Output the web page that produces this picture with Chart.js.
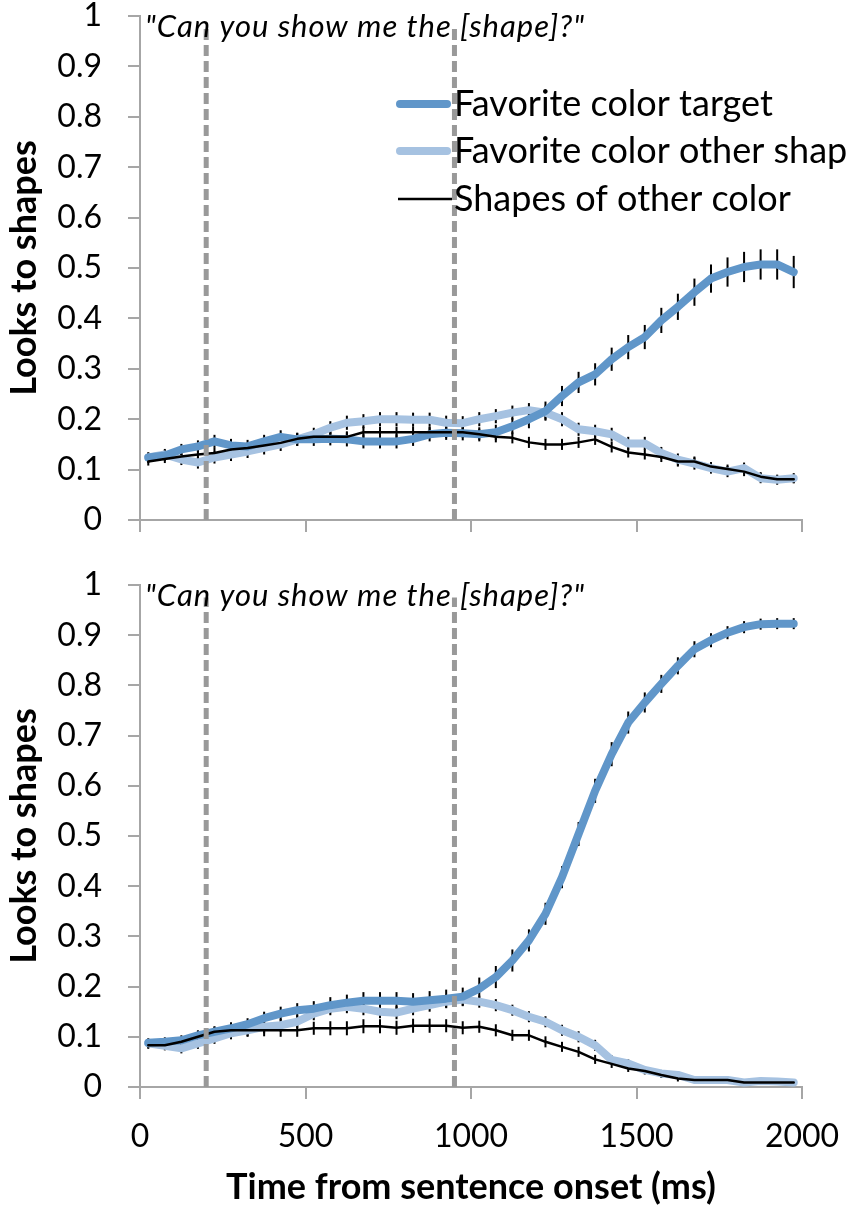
<!DOCTYPE html>
<html>
<head>
<meta charset="utf-8">
<script src="https://cdn.jsdelivr.net/npm/chart.js@4.4.0/dist/chart.umd.min.js"></script>
<style>
html, body { margin: 0; padding: 0; background: #fff; }
#top { position: absolute; left: 0; top: 0; width: 847px; height: 545px; }
#bottom { position: absolute; left: 0; top: 545px; width: 847px; height: 670px; }
</style>
</head>
<body>
<div id="top"><canvas id="c1"></canvas></div>
<div id="bottom"><canvas id="c2"></canvas></div>
<script>
// time bins (ms from sentence onset)
const times = [25,75,125,175,225,275,325,375,425,475,525,575,625,675,725,775,825,875,925,975,
	1025,1075,1125,1175,1225,1275,1325,1375,1425,1475,1525,1575,1625,1675,1725,1775,1825,1875,1925,1975];

const seriesNames = ['Favorite color target', 'Favorite color other shape', 'Shapes of other color'];
const xTicks = [0, 500, 1000, 1500, 2000];
const xTickLabels = ['0', '500', '1000', '1500', '2000'];
const yTicks = [0, 0.1, 0.2, 0.3, 0.4, 0.5, 0.6, 0.7, 0.8, 0.9, 1];
const yTickLabels = ['0', '0.1', '0.2', '0.3', '0.4', '0.5', '0.6', '0.7', '0.8', '0.9', '1'];
const cueTimes = [200, 950];
const annotation = '"Can you show me the [shape]?"';

// top panel
const topTarget = [0.124,0.128,0.140,0.146,0.156,0.148,0.146,0.156,0.165,0.160,0.160,0.161,0.160,0.156,0.156,0.156,0.161,0.170,0.173,0.172,
	0.170,0.174,0.186,0.200,0.216,0.246,0.273,0.289,0.319,0.343,0.363,0.396,0.423,0.452,0.479,0.492,0.502,0.507,0.507,0.492];
const topOther = [0.124,0.130,0.120,0.114,0.124,0.130,0.136,0.143,0.150,0.160,0.170,0.183,0.193,0.196,0.200,0.200,0.199,0.199,0.193,0.192,
	0.200,0.206,0.213,0.218,0.213,0.200,0.180,0.176,0.170,0.152,0.152,0.133,0.120,0.112,0.103,0.096,0.103,0.083,0.080,0.083];
const topOtherColor = [0.116,0.121,0.126,0.130,0.133,0.140,0.143,0.148,0.153,0.161,0.165,0.165,0.165,0.174,0.174,0.174,0.174,0.174,0.174,0.174,
	0.170,0.165,0.163,0.154,0.150,0.150,0.154,0.160,0.145,0.134,0.130,0.125,0.116,0.116,0.106,0.101,0.096,0.086,0.081,0.081];
const topTargetErr = [0.010,0.011,0.011,0.012,0.013,0.013,0.013,0.013,0.013,0.013,0.013,0.013,0.014,0.014,0.014,0.014,0.014,0.014,0.014,0.014,
	0.014,0.015,0.016,0.018,0.019,0.020,0.021,0.022,0.023,0.024,0.024,0.025,0.026,0.027,0.028,0.029,0.030,0.030,0.030,0.032];
const topOtherErr = [0.010,0.011,0.011,0.012,0.012,0.013,0.013,0.013,0.013,0.013,0.013,0.013,0.014,0.014,0.014,0.014,0.014,0.014,0.014,0.014,
	0.014,0.014,0.014,0.014,0.014,0.014,0.013,0.013,0.013,0.013,0.013,0.012,0.012,0.012,0.011,0.011,0.011,0.010,0.010,0.010];
const topOtherColorErr = [0.008,0.008,0.009,0.009,0.010,0.010,0.010,0.010,0.010,0.010,0.010,0.010,0.011,0.011,0.011,0.011,0.011,0.011,0.011,0.011,
	0.011,0.011,0.011,0.011,0.011,0.011,0.011,0.011,0.011,0.010,0.010,0.010,0.010,0.010,0.009,0.009,0.009,0.009,0.008,0.008];

// bottom panel
const botTarget = [0.088,0.090,0.093,0.103,0.110,0.117,0.125,0.137,0.146,0.153,0.156,0.163,0.168,0.172,0.172,0.172,0.170,0.173,0.176,0.180,
	0.196,0.219,0.252,0.292,0.345,0.418,0.504,0.590,0.663,0.726,0.766,0.803,0.839,0.872,0.890,0.905,0.916,0.922,0.923,0.923];
const botOther = [0.087,0.082,0.077,0.087,0.097,0.107,0.113,0.120,0.123,0.130,0.146,0.156,0.160,0.156,0.150,0.148,0.156,0.163,0.170,0.174,
	0.170,0.163,0.153,0.140,0.130,0.113,0.100,0.083,0.054,0.047,0.034,0.027,0.024,0.014,0.014,0.014,0.009,0.012,0.011,0.009];
const botOtherColor = [0.083,0.083,0.090,0.100,0.110,0.113,0.113,0.113,0.113,0.113,0.117,0.117,0.117,0.121,0.121,0.118,0.122,0.122,0.122,0.118,
	0.120,0.113,0.103,0.103,0.090,0.080,0.070,0.055,0.046,0.037,0.032,0.024,0.017,0.014,0.014,0.014,0.009,0.009,0.009,0.009];
const botTargetErr = [0.009,0.009,0.010,0.010,0.011,0.012,0.012,0.013,0.014,0.014,0.015,0.016,0.016,0.017,0.017,0.017,0.017,0.018,0.018,0.018,
	0.022,0.022,0.022,0.022,0.022,0.022,0.024,0.024,0.024,0.022,0.020,0.018,0.017,0.016,0.014,0.013,0.012,0.011,0.011,0.011];
const botOtherErr = [0.009,0.009,0.010,0.011,0.011,0.012,0.013,0.013,0.013,0.013,0.013,0.013,0.013,0.013,0.013,0.013,0.013,0.013,0.013,0.013,
	0.012,0.012,0.011,0.011,0.011,0.011,0.011,0.011,0.009,0.008,0.007,0.007,0.006,0.006,0.006,0.005,0.005,0.005,0.005,0.005];
const botOtherColorErr = [0.007,0.007,0.008,0.009,0.010,0.011,0.012,0.012,0.013,0.013,0.013,0.014,0.014,0.014,0.014,0.014,0.014,0.014,0.013,0.013,
	0.012,0.012,0.011,0.011,0.011,0.010,0.010,0.009,0.008,0.007,0.007,0.006,0.006,0.005,0.005,0.005,0.005,0.005,0.005,0.005];

const colTarget = '#6096c9';
const colOther = '#a6c2e1';
const axisGray = '#a6a6a6';
const FONT = 'Lato';

function pts(vals) {
	return times.map((t, i) => ({x: t, y: vals[i]}));
}

const errorBars = {
	id: 'errorBars',
	beforeDatasetsDraw(chart) {
		const ctx = chart.ctx, xs = chart.scales.x, ys = chart.scales.y;
		ctx.save();
		ctx.strokeStyle = '#000';
		ctx.lineWidth = 2;
		chart.data.datasets.forEach(ds => {
			if (!ds.errs) return;
			ds.data.forEach((p, i) => {
				const x = xs.getPixelForValue(p.x);
				ctx.beginPath();
				ctx.moveTo(x, ys.getPixelForValue(p.y - ds.errs[i]));
				ctx.lineTo(x, ys.getPixelForValue(p.y + ds.errs[i]));
				ctx.stroke();
			});
		});
		ctx.restore();
	}
};

const annotate = {
	id: 'annotate',
	afterDraw(chart) {
		const ctx = chart.ctx, a = chart.chartArea;
		ctx.save();
		ctx.font = 'italic 31px ' + FONT;
		ctx.letterSpacing = '1px';
		ctx.fillStyle = '#000';
		ctx.textBaseline = 'middle';
		ctx.fillText(annotation, a.left + 5, a.top + 11);
		ctx.restore();
	}
};

const sideLegend = {
	id: 'sideLegend',
	afterDraw(chart) {
		const ctx = chart.ctx;
		const rows = [104, 151, 199];
		ctx.save();
		ctx.font = '36px ' + FONT;
		ctx.textBaseline = 'middle';
		chart.data.datasets.filter(ds => ds.errs).forEach((ds, i) => {
			const thick = ds.borderWidth > 4;
			ctx.strokeStyle = ds.borderColor;
			ctx.lineWidth = ds.borderWidth;
			ctx.lineCap = thick ? 'round' : 'butt';
			ctx.beginPath();
			ctx.moveTo(thick ? 400 : 398, rows[i]);
			ctx.lineTo(thick ? 447 : 452, rows[i]);
			ctx.stroke();
			ctx.fillStyle = '#000';
			ctx.fillText(ds.label, 454, rows[i]);
		});
		ctx.restore();
	}
};

function makeChart(id, target, other, otherColor, errs, isBottom) {
	const cues = cueTimes.map(t => ({
		type: 'line',
		data: [{x: t, y: 0}, {x: t, y: 0.975}],
		borderColor: '#999999',
		borderWidth: 5,
		borderDash: [11, 5],
		pointRadius: 0,
		order: -1
	}));
	const lines = [
		{label: seriesNames[0], data: pts(target), errs: errs[0], borderColor: colTarget, borderWidth: 8, order: 1},
		{label: seriesNames[1], data: pts(other), errs: errs[1], borderColor: colOther, borderWidth: 8, order: 2},
		{label: seriesNames[2], data: pts(otherColor), errs: errs[2], borderColor: '#000', borderWidth: 2.5, order: 0}
	].map(d => Object.assign(d, {pointRadius: 0, tension: 0, borderCapStyle: 'round', borderJoinStyle: 'round'}));

	return new Chart(document.getElementById(id), {
		type: 'line',
		data: {datasets: lines.concat(cues)},
		plugins: isBottom ? [errorBars, annotate] : [errorBars, annotate, sideLegend],
		options: {
			responsive: true,
			maintainAspectRatio: false,
			animation: false,
			layout: {padding: {top: isBottom ? 40 : 16, right: 45, left: 0, bottom: 0}},
			plugins: {legend: {display: false}, tooltip: {enabled: false}},
			scales: {
				x: {
					type: 'linear',
					min: 0,
					max: 2000,
					afterBuildTicks: s => { s.ticks = xTicks.map(v => ({value: v})); },
					afterFit: s => { s.height = isBottom ? 128 : 25; s.paddingLeft = 0; s.paddingRight = 0; },
					grid: {drawOnChartArea: false, drawTicks: true, tickLength: 12, color: axisGray, lineWidth: 2},
					border: {color: axisGray, width: 2},
					ticks: {display: isBottom, color: '#000', font: {family: FONT, size: 32}, padding: 18, maxRotation: 0,
						callback: (v, i) => xTickLabels[i]},
					title: {display: isBottom, text: 'Time from sentence onset (ms)', color: '#000',
						font: {family: FONT, size: 36, weight: 'bold'}, padding: {top: 4, bottom: 6}}
				},
				y: {
					min: 0,
					max: 1,
					afterBuildTicks: s => { s.ticks = yTicks.map(v => ({value: v})); },
					afterFit: s => { s.width = 140; s.paddingTop = 0; s.paddingBottom = 0; },
					grid: {drawOnChartArea: false, drawTicks: true, tickLength: 12, color: axisGray, lineWidth: 2},
					border: {color: axisGray, width: 2},
					ticks: {color: '#000', font: {family: FONT, size: 32}, padding: 26,
						callback: (v, i) => yTickLabels[i]},
					title: {display: true, text: 'Looks to shapes', color: '#000',
						font: {family: FONT, size: 36, weight: 'bold'}, padding: {top: 3, bottom: 4}}
				}
			}
		}
	});
}

makeChart('c1', topTarget, topOther, topOtherColor, [topTargetErr, topOtherErr, topOtherColorErr], false);
makeChart('c2', botTarget, botOther, botOtherColor, [botTargetErr, botOtherErr, botOtherColorErr], true);
</script>
</body>
</html>
